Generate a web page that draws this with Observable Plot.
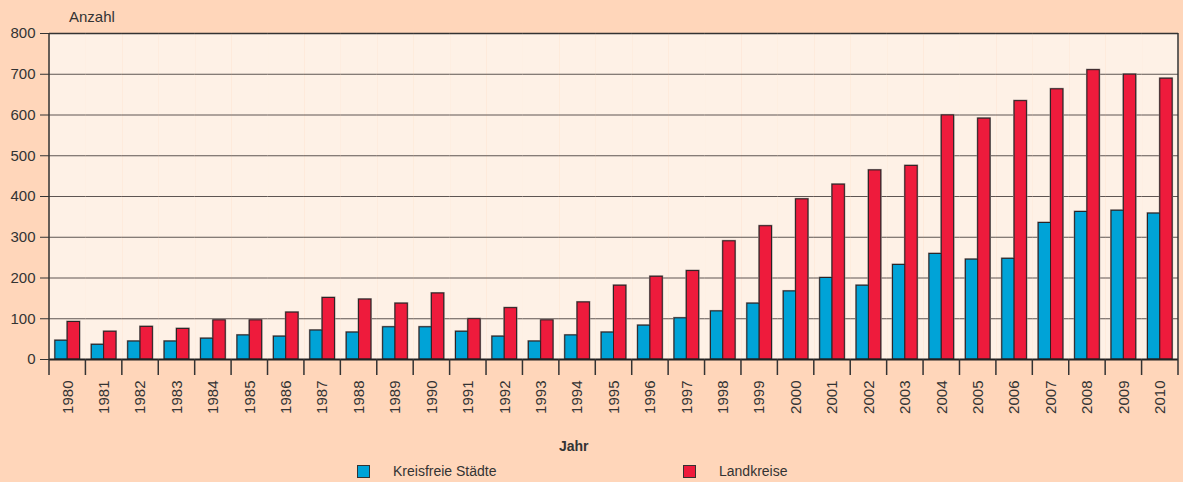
<!DOCTYPE html>
<html><head><meta charset="utf-8">
<script src="https://cdn.jsdelivr.net/npm/d3@7"></script>
<script src="https://cdn.jsdelivr.net/npm/@observablehq/plot@0.6"></script>
<style>
body{margin:0;background:#FFD6BA;font-family:"Liberation Sans",Arial,sans-serif;color:#333;}
#wrap{position:relative;width:1183px;height:482px;overflow:hidden;}
#chart{position:absolute;left:0;top:0;}
#xlabel{position:absolute;left:559px;top:439px;font-size:14px;line-height:14px;font-weight:bold;}
.item{position:absolute;top:464px;font-size:14px;line-height:14px;white-space:nowrap;}
.sw{position:absolute;width:11px;height:11px;border:1px solid #333;}
</style></head><body>
<div id="wrap"><div id="chart"></div><div id="xlabel">Jahr</div><div id="legend"></div></div>
<script>
const years = [1980,1981,1982,1983,1984,1985,1986,1987,1988,1989,1990,1991,1992,1993,1994,1995,1996,1997,1998,1999,2000,2001,2002,2003,2004,2005,2006,2007,2008,2009,2010];
const kreisfreieStaedte = [46,36,44,44,51,59,56,71,66,79,79,68,56,44,59,66,83,101,118,137,167,200,181,232,259,245,247,335,362,365,358];
const landkreise = [92,68,80,75,96,96,115,151,147,137,162,99,126,96,140,181,203,217,290,327,393,429,464,475,599,591,634,663,710,699,689];
const seriesNames = ["Kreisfreie Städte","Landkreise"];
const seriesColors = ["#00A3D7","#EE1B3C"];
const yTicks = [0,100,200,300,400,500,600,700,800];
const yTitle = "Anzahl";

const data = years.flatMap((yr,i)=>[
  {year:yr, series:seriesNames[0], value:kreisfreieStaedte[i]},
  {year:yr, series:seriesNames[1], value:landkreise[i]}
]);

const plot = Plot.plot({
  width:1183, height:430,
  marginTop:33, marginBottom:71, marginLeft:49, marginRight:5,
  style:{background:"transparent", fontFamily:"'Liberation Sans', Arial, sans-serif", fontSize:"15px", color:"#333"},
  fx:{domain:years, padding:0, round:false, label:null},
  x:{domain:seriesNames, paddingInner:0, paddingOuter:0.48, round:false, axis:null},
  y:{domain:[0,800]},
  color:{domain:seriesNames, range:seriesColors},
  marks:[
    Plot.frame({fill:"#FEF1E6", stroke:null}),
    Plot.gridY(yTicks, {stroke:"#5e5552", strokeOpacity:1, strokeWidth:1}),
    Plot.barY(data, {fx:"year", x:"series", y:"value", fill:"series", stroke:"#9a908c", strokeWidth:2}),
    Plot.barY(data, {fx:"year", x:"series", y:"value", fill:"series", stroke:"#2b2224", strokeWidth:1}),
    Plot.ruleY([0], {stroke:"#222", strokeWidth:2}),
    Plot.ruleY([800], {stroke:"#333", strokeWidth:1.5}),
    Plot.axisY(yTicks, {tickSize:9, tickPadding:5, tickFormat:"d", label:null, stroke:"#333"}),
    Plot.axisFx({anchor:"bottom", tickSize:0, tickPadding:21, tickRotate:-90, label:null, tickFormat:d=>String(d)})
  ]
});
document.getElementById("chart").appendChild(plot);

// band-boundary ticks and side frame lines from the library's scales
const fx = plot.scale("fx"), ys = plot.scale("y");
const y0 = ys.apply(0), y1 = ys.apply(800);
const left = fx.apply(years[0]);
const right = fx.apply(years[years.length-1]) + fx.bandwidth;
const svg = d3.select(plot);
const g = svg.append("g").attr("stroke","#333");
const bounds = years.map(yv=>fx.apply(yv)).concat([right]);
g.selectAll("line.b").data(bounds).join("line")
  .attr("x1",d=>d).attr("x2",d=>d).attr("y1",y0).attr("y2",y0+16).attr("stroke-width",1.5);
g.append("line").attr("x1",left).attr("x2",left).attr("y1",y1).attr("y2",y0).attr("stroke-width",1.5);
g.append("line").attr("x1",right).attr("x2",right).attr("y1",y1).attr("y2",y0).attr("stroke-width",1.5);
svg.append("text").attr("x",left+20).attr("y",y1-11).attr("fill","#333")
  .attr("text-anchor","start").attr("font-size",15).text(yTitle);

// legend
const legendPos = [357, 683];
const leg = document.getElementById("legend");
seriesNames.forEach((name,i)=>{
  const sw = document.createElement("div");
  sw.className="sw"; sw.style.left=legendPos[i]+"px"; sw.style.top="465px"; sw.style.background=seriesColors[i];
  leg.appendChild(sw);
  const t = document.createElement("div");
  t.className="item"; t.style.left=(legendPos[i]+36)+"px"; t.textContent=name;
  leg.appendChild(t);
});
</script>
</body></html>
